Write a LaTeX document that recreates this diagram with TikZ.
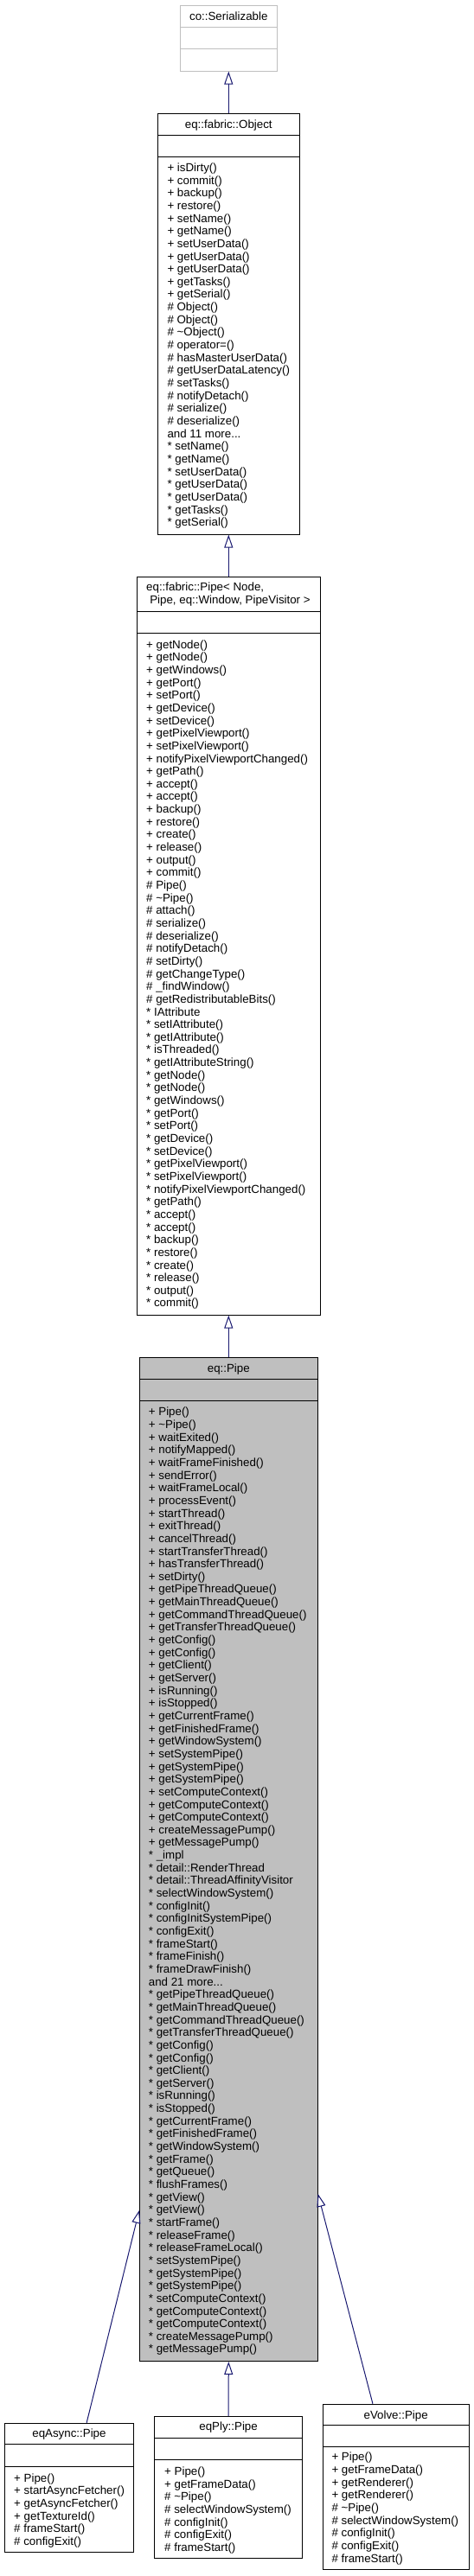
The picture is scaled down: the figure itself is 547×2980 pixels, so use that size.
\documentclass[tikz,border=0pt]{standalone}
\usepackage{fontspec}
\setmainfont{Liberation Sans}
\usetikzlibrary{arrows.meta, positioning}
\usepackage{xcolor}
\definecolor{Edge}{HTML}{191970}
\definecolor{Grey75}{HTML}{BFBFBF}
\definecolor{Ink}{HTML}{000000}

\begin{document}
\begin{tikzpicture}[x=1pt, y=-1pt,
    cls/.style={rectangle, draw=Ink, line width=0.9pt, fill=white, anchor=north west, inner sep=0pt},
    ghost/.style={cls, draw=Grey75},
    current/.style={cls, fill=Grey75},
    sep/.style={draw=Ink, line width=0.9pt},
    ghostsep/.style={draw=Grey75, line width=0.9pt},
    title/.style={anchor=base, inner sep=0pt, font=\fontsize{13.33}{14.65}\selectfont},
    members/.style={anchor=north west, inner sep=0pt, align=left, font=\fontsize{13.33}{14.65}\selectfont},
    inherit/.style={-{Triangle[open, length=15pt, width=10pt]}, line width=1pt, draw=Edge}
  ]
  \useasboundingbox (0,0) rectangle (547,2980);

  % Base of everything (undocumented, grey)
  \node[ghost, minimum width=112.3pt, minimum height=76pt] (ser) at (207.7,5.7) {};
  \draw[ghostsep] ([yshift=-26pt]ser.north west) -- ([yshift=-26pt]ser.north east);
  \draw[ghostsep] ([yshift=-51pt]ser.north west) -- ([yshift=-51pt]ser.north east);
  \node[title] (sertitle) at ([yshift=-17.3pt]ser.north) {co::Serializable};

  % eq::fabric::Object
  \node[cls, minimum width=164.3pt, minimum height=486.7pt] (obj) at (181.7,131) {};
  \draw[sep] ([yshift=-25pt]obj.north west) -- ([yshift=-25pt]obj.north east);
  \draw[sep] ([yshift=-50.7pt]obj.north west) -- ([yshift=-50.7pt]obj.north east);
  \node[title] (objtitle) at ([yshift=-17pt]obj.north) {eq::fabric::Object};
  \node[members] (objmem) at (193.3,188.6) {+ isDirty()\\+ commit()\\+ backup()\\+ restore()\\+ setName()\\+ getName()\\%
+ setUserData()\\+ getUserData()\\+ getUserData()\\+ getTasks()\\+ getSerial()\\\# Object()\\\# Object()\\%
\# \textasciitilde Object()\\\# operator=()\\\# hasMasterUserData()\\\# getUserDataLatency()\\\# setTasks()\\%
\# notifyDetach()\\\# serialize()\\\# deserialize()\\and 11 more...\\{}* setName()\\{}* getName()\\%
{}* setUserData()\\{}* getUserData()\\{}* getUserData()\\{}* getTasks()\\{}* getSerial()};

  % eq::fabric::Pipe template
  \node[cls, minimum width=212.3pt, minimum height=853.4pt] (fpipe) at (157.7,667.3) {};
  \draw[sep] ([yshift=-40pt]fpipe.north west) -- ([yshift=-40pt]fpipe.north east);
  \draw[sep] ([yshift=-65.4pt]fpipe.north west) -- ([yshift=-65.4pt]fpipe.north east);
  \node[title, anchor=base west] (fpipetitle) at (169,683.8) {eq::fabric::Pipe< Node,};
  \node[title] (fpipetitleb) at (266,698.1) {Pipe, eq::Window, PipeVisitor >};
  \node[members] (fpipemem) at (169,740.3) {+ getNode()\\+ getNode()\\+ getWindows()\\+ getPort()\\+ setPort()\\%
+ getDevice()\\+ setDevice()\\+ getPixelViewport()\\+ setPixelViewport()\\+ notifyPixelViewportChanged()\\%
+ getPath()\\+ accept()\\+ accept()\\+ backup()\\+ restore()\\+ create()\\+ release()\\+ output()\\+ commit()\\%
\# Pipe()\\\# \textasciitilde Pipe()\\\# attach()\\\# serialize()\\\# deserialize()\\\# notifyDetach()\\%
\# setDirty()\\\# getChangeType()\\\# \_findWindow()\\\# getRedistributableBits()\\%
{}* IAttribute\\{}* setIAttribute()\\{}* getIAttribute()\\{}* isThreaded()\\{}* getIAttributeString()\\%
{}* getNode()\\{}* getNode()\\{}* getWindows()\\{}* getPort()\\{}* setPort()\\{}* getDevice()\\%
{}* setDevice()\\{}* getPixelViewport()\\{}* setPixelViewport()\\{}* notifyPixelViewportChanged()\\%
{}* getPath()\\{}* accept()\\{}* accept()\\{}* backup()\\{}* restore()\\{}* create()\\{}* release()\\%
{}* output()\\{}* commit()};

  % eq::Pipe (this class, grey)
  \node[current, minimum width=205.7pt, minimum height=1161pt] (pipe) at (161,1570) {};
  \draw[sep] ([yshift=-25.7pt]pipe.north west) -- ([yshift=-25.7pt]pipe.north east);
  \draw[sep] ([yshift=-50.3pt]pipe.north west) -- ([yshift=-50.3pt]pipe.north east);
  \node[title] (pipetitle) at ([yshift=-17.2pt]pipe.north) {eq::Pipe};
  \node[members] (pipemem) at (171.7,1628) {+ Pipe()\\+ \textasciitilde Pipe()\\+ waitExited()\\+ notifyMapped()\\%
+ waitFrameFinished()\\+ sendError()\\+ waitFrameLocal()\\+ processEvent()\\+ startThread()\\+ exitThread()\\%
+ cancelThread()\\+ startTransferThread()\\+ hasTransferThread()\\+ setDirty()\\+ getPipeThreadQueue()\\%
+ getMainThreadQueue()\\+ getCommandThreadQueue()\\+ getTransferThreadQueue()\\+ getConfig()\\+ getConfig()\\%
+ getClient()\\+ getServer()\\+ isRunning()\\+ isStopped()\\+ getCurrentFrame()\\+ getFinishedFrame()\\%
+ getWindowSystem()\\+ setSystemPipe()\\+ getSystemPipe()\\+ getSystemPipe()\\+ setComputeContext()\\%
+ getComputeContext()\\+ getComputeContext()\\+ createMessagePump()\\+ getMessagePump()\\%
{}* \_impl\\{}* detail::RenderThread\\{}* detail::ThreadAffinityVisitor\\{}* selectWindowSystem()\\%
{}* configInit()\\{}* configInitSystemPipe()\\{}* configExit()\\{}* frameStart()\\{}* frameFinish()\\%
{}* frameDrawFinish()\\and 21 more...\\{}* getPipeThreadQueue()\\{}* getMainThreadQueue()\\%
{}* getCommandThreadQueue()\\{}* getTransferThreadQueue()\\{}* getConfig()\\{}* getConfig()\\%
{}* getClient()\\{}* getServer()\\{}* isRunning()\\{}* isStopped()\\{}* getCurrentFrame()\\%
{}* getFinishedFrame()\\{}* getWindowSystem()\\{}* getFrame()\\{}* getQueue()\\{}* flushFrames()\\%
{}* getView()\\{}* getView()\\{}* startFrame()\\{}* releaseFrame()\\{}* releaseFrameLocal()\\%
{}* setSystemPipe()\\{}* getSystemPipe()\\{}* getSystemPipe()\\{}* setComputeContext()\\%
{}* getComputeContext()\\{}* getComputeContext()\\{}* createMessagePump()\\{}* getMessagePump()};

  % Derived classes (bottom row)
  \node[cls, minimum width=149.6pt, minimum height=149.3pt] (async) at (4.7,2802.7) {};
  \draw[sep] ([yshift=-25pt]async.north west) -- ([yshift=-25pt]async.north east);
  \draw[sep] ([yshift=-50.3pt]async.north west) -- ([yshift=-50.3pt]async.north east);
  \node[title] (asynctitle) at ([yshift=-17pt]async.north) {eqAsync::Pipe};
  \node[members] (asyncmem) at (16,2861.3) {+ Pipe()\\+ startAsyncFetcher()\\+ getAsyncFetcher()\\%
+ getTextureId()\\\# frameStart()\\\# configExit()};

  \node[cls, minimum width=170.7pt, minimum height=164.3pt] (ply) at (178.3,2795) {};
  \draw[sep] ([yshift=-25.7pt]ply.north west) -- ([yshift=-25.7pt]ply.north east);
  \draw[sep] ([yshift=-50.7pt]ply.north west) -- ([yshift=-50.7pt]ply.north east);
  \node[title] (plytitle) at ([yshift=-16.5pt]ply.north) {eqPly::Pipe};
  \node[members] (plymem) at (190,2853.6) {+ Pipe()\\+ getFrameData()\\\# \textasciitilde Pipe()\\%
\# selectWindowSystem()\\\# configInit()\\\# configExit()\\\# frameStart()};

  \node[cls, minimum width=169pt, minimum height=191.6pt] (volve) at (372.7,2780.7) {};
  \draw[sep] ([yshift=-25pt]volve.north west) -- ([yshift=-25pt]volve.north east);
  \draw[sep] ([yshift=-50pt]volve.north west) -- ([yshift=-50pt]volve.north east);
  \node[title] (volvetitle) at ([yshift=-17.4pt]volve.north) {eVolve::Pipe};
  \node[members] (volvemem) at (383.3,2837) {+ Pipe()\\+ getFrameData()\\+ getRenderer()\\+ getRenderer()\\%
\# \textasciitilde Pipe()\\\# selectWindowSystem()\\\# configInit()\\\# configExit()\\\# frameStart()};

  % Inheritance arrows
  \draw[inherit] (obj.north) -- (ser.south);
  \draw[inherit] (fpipe.north) -- (obj.south);
  \draw[inherit] (pipe.north) -- (fpipe.south);
  \draw[inherit] (ply.north) -- (pipe.south);
  \draw[inherit] ([xshift=20.2pt]async.north) -- ([yshift=175pt]pipe.south west);
  \draw[inherit] ([xshift=-26.7pt]volve.north) -- ([yshift=194pt]pipe.south east);
\end{tikzpicture}
\end{document}
